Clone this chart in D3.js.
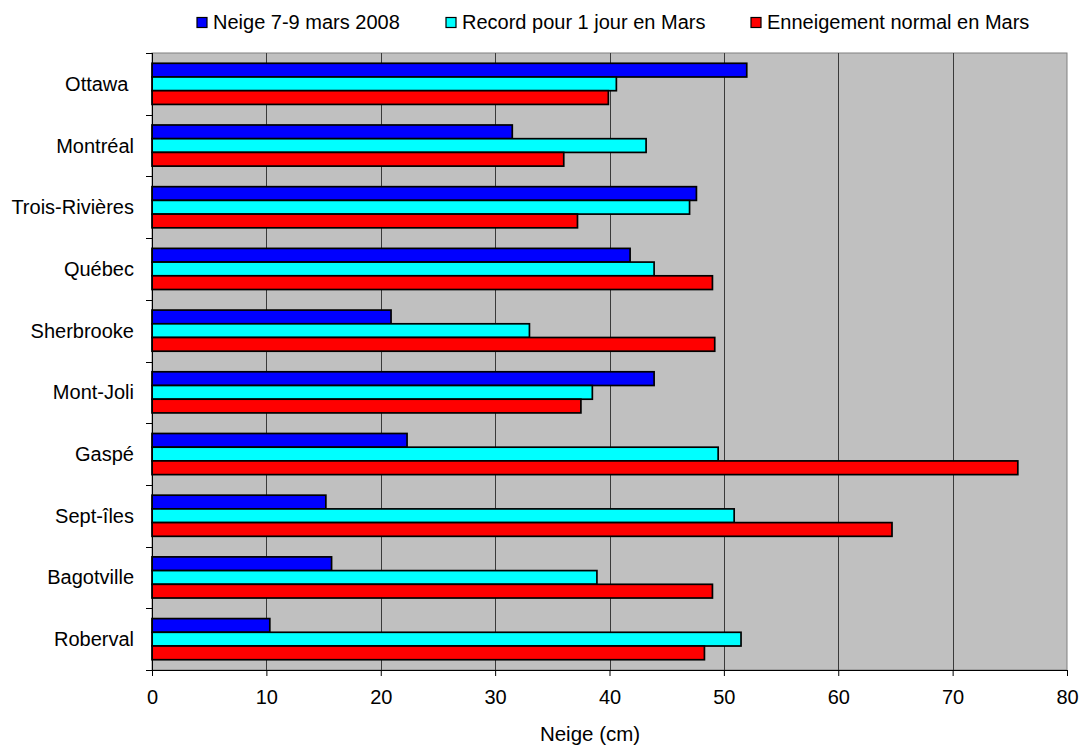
<!DOCTYPE html>
<html>
<head>
<meta charset="utf-8">
<script src="https://cdn.jsdelivr.net/npm/d3@7"></script>
<style>
  html, body { margin: 0; padding: 0; background: #fff; }
  svg text { font-family: "Liberation Sans", Arial, sans-serif; fill: #000; }
</style>
</head>
<body>
<svg id="chart" width="1081" height="746"></svg>
<script>
// Stations, top to bottom
const stations = ["Ottawa ", "Montréal", "Trois-Rivières", "Québec", "Sherbrooke",
                  "Mont-Joli", "Gaspé", "Sept-îles", "Bagotville", "Roberval"];

// Snow amounts (cm)
const neige2008   = [52.0, 31.5, 47.6, 41.8, 20.9, 43.9, 22.3, 15.2, 15.7, 10.3];
const recordJour  = [40.6, 43.2, 47.0, 43.9, 33.0, 38.5, 49.5, 50.9, 38.9, 51.5];
const normalMars  = [39.9, 36.0, 37.2, 49.0, 49.2, 37.5, 75.7, 64.7, 49.0, 48.3];

const seriesNames = ["Neige 7-9 mars 2008", "Record pour 1 jour en Mars", "Enneigement normal en Mars"];
const seriesColors = ["#0000FF", "#00FFFF", "#FF0000"];
const xTicks = [0, 10, 20, 30, 40, 50, 60, 70, 80];
const xTitle = "Neige (cm)";

const seriesValues = [neige2008, recordJour, normalMars];

const svg = d3.select("#chart");
const plotL = 152, plotR = 1067, plotT = 53, plotB = 670;
const fontPx = 20;

const x = d3.scaleLinear().domain([0, 80]).range([plotL, plotR]);
const y0 = d3.scaleBand().domain(stations).range([plotT, plotB]).padding(0);
const y1 = d3.scaleBand().domain(d3.range(3)).range([0, y0.bandwidth()])
  .paddingInner(0).paddingOuter(0.75);

// plot background
svg.append("rect")
  .attr("x", plotL).attr("y", plotT)
  .attr("width", plotR - plotL).attr("height", plotB - plotT)
  .attr("fill", "#C0C0C0")
  .attr("stroke", "#808080").attr("stroke-width", 1);

// vertical gridlines
svg.append("g").selectAll("line")
  .data(xTicks.filter(d => d > 0 && d < 80))
  .join("line")
  .attr("x1", d => Math.round(x(d)) + 0.5).attr("x2", d => Math.round(x(d)) + 0.5)
  .attr("y1", plotT).attr("y2", plotB)
  .attr("stroke", "#3a3a3a").attr("stroke-width", 1);

// bars
const groups = svg.append("g").selectAll("g")
  .data(stations)
  .join("g")
  .attr("transform", d => `translate(0,${y0(d)})`);

groups.selectAll("rect")
  .data((d, i) => seriesValues.map((vals, s) => ({ s, v: vals[i] })))
  .join("rect")
  .attr("x", x(0))
  .attr("y", d => y1(d.s))
  .attr("width", d => x(d.v) - x(0))
  .attr("height", y1.bandwidth())
  .attr("fill", d => seriesColors[d.s])
  .attr("stroke", "#000").attr("stroke-width", 1.7);

// x axis
const xAxis = d3.axisBottom(x).tickValues(xTicks).tickSize(6).tickPadding(14).tickFormat(d3.format("d"));
const gx = svg.append("g").attr("transform", `translate(0,${plotB})`).call(xAxis);
gx.select(".domain").attr("d", `M${plotL - 6},0.5H${plotR}`).attr("stroke", "#000");
gx.selectAll(".tick line").attr("stroke", "#000");
gx.selectAll(".tick text").attr("font-size", fontPx).style("font-family", "'Liberation Sans', Arial, sans-serif");

// y axis with ticks at category boundaries
const gy = svg.append("g");
gy.append("line")
  .attr("x1", plotL + 0.5).attr("x2", plotL + 0.5)
  .attr("y1", plotT).attr("y2", plotB + 6)
  .attr("stroke", "#000");
const boundaries = stations.map(s => y0(s)).concat([plotB]);
gy.selectAll("line.tk")
  .data(boundaries)
  .join("line")
  .attr("class", "tk")
  .attr("x1", plotL - 6).attr("x2", plotL)
  .attr("y1", d => Math.round(d) + 0.5).attr("y2", d => Math.round(d) + 0.5)
  .attr("stroke", "#000");

gy.selectAll("text")
  .data(stations)
  .join("text")
  .attr("x", 134)
  .attr("y", d => y0(d) + y0.bandwidth() / 2)
  .attr("dy", "0.35em")
  .attr("text-anchor", "end")
  .attr("font-size", fontPx)
  .style("white-space", "pre")
  .text(d => d);

// axis title
svg.append("text")
  .attr("x", 590).attr("y", 741)
  .attr("text-anchor", "middle")
  .attr("font-size", 20.5)
  .text(xTitle);

// legend
const legendX = [197, 446, 751];
const legend = svg.append("g").selectAll("g")
  .data(seriesNames)
  .join("g")
  .attr("transform", (d, i) => `translate(${legendX[i]},0)`);
legend.append("rect")
  .attr("x", 0).attr("y", 17.5).attr("width", 10).attr("height", 10)
  .attr("fill", (d, i) => seriesColors[i])
  .attr("stroke", "#000").attr("stroke-width", 1.2);
legend.append("text")
  .attr("x", 16).attr("y", 29)
  .attr("font-size", fontPx)
  .text(d => d);
</script>
</body>
</html>
